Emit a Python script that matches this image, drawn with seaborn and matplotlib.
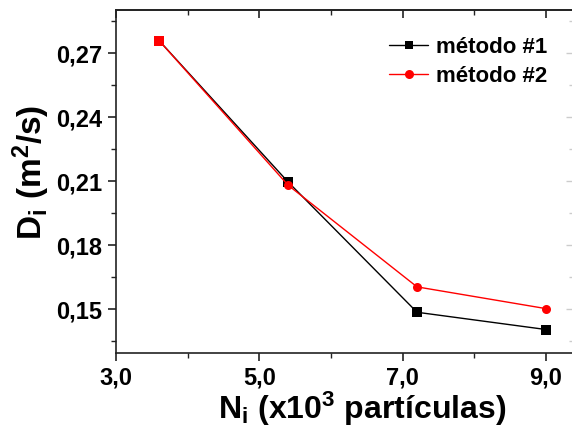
import matplotlib
matplotlib.use("Agg")
import matplotlib.pyplot as plt
import seaborn as sns
import pandas as pd
from matplotlib.ticker import MultipleLocator
from matplotlib.lines import Line2D

# Data
n_particles = [3.6, 5.4, 7.2, 9.0]
d_metodo1 = [0.2760, 0.2097, 0.1486, 0.1405]
d_metodo2 = [0.2760, 0.2082, 0.1605, 0.1503]
series_names = ["método #1", "método #2"]
x_ticks = [3.0, 5.0, 7.0, 9.0]
x_tick_labels = ["3,0", "5,0", "7,0", "9,0"]
y_ticks = [0.15, 0.18, 0.21, 0.24, 0.27]
y_tick_labels = ["0,15", "0,18", "0,21", "0,24", "0,27"]

sns.set_theme(style="white")
plt.rcParams['font.family'] = ['Liberation Sans', 'DejaVu Sans']
plt.rcParams['font.weight'] = 'bold'
plt.rcParams['text.color'] = 'black'
plt.rcParams['axes.labelcolor'] = 'black'
plt.rcParams['xtick.color'] = 'black'
plt.rcParams['ytick.color'] = 'black'
plt.rcParams['mathtext.fontset'] = 'custom'
plt.rcParams['mathtext.rm'] = 'Liberation Sans:bold'
plt.rcParams['mathtext.it'] = 'Liberation Sans:bold'
plt.rcParams['mathtext.bf'] = 'Liberation Sans:bold'
plt.rcParams['mathtext.default'] = 'rm'

df = pd.DataFrame({
    "N": n_particles * 2,
    "D": d_metodo1 + d_metodo2,
    "metodo": [series_names[0]] * 4 + [series_names[1]] * 4,
})

fig = plt.figure(figsize=(5.72, 4.30), dpi=100)
ax = fig.add_axes([116 / 572, 1 - 353 / 430, (574 - 116) / 572, (353 - 10) / 430])

palette = {series_names[0]: "black", series_names[1]: "red"}
sns.lineplot(data=df, x="N", y="D", hue="metodo", style="metodo",
             palette=palette, markers={series_names[0]: "s", series_names[1]: "o"},
             dashes=False, markersize=6.5, linewidth=1.0, markeredgewidth=0,
             ax=ax, legend=False)
# first point of method 2 drawn as a square on top
ax.plot(n_particles[:1], d_metodo2[:1], marker="s", color="red", markersize=6.5,
        markeredgewidth=0, linestyle="none", zorder=5)

ax.set_xlim(3.0, 9.39)
ax.set_ylim(0.1295, 0.2903)
ax.set_xticks(x_ticks)
ax.set_xticklabels(x_tick_labels, fontsize=17, fontweight="bold", color="black")
ax.set_yticks(y_ticks)
ax.set_yticklabels(y_tick_labels, fontsize=17, fontweight="bold", color="black")
ax.xaxis.set_minor_locator(MultipleLocator(1.0))
ax.yaxis.set_minor_locator(MultipleLocator(0.015))
ax.tick_params(axis="both", which="major", direction="out", length=6, width=1.2,
               color="#222222", pad=4, bottom=True, left=True)
ax.tick_params(axis="both", which="minor", direction="out", length=3.5, width=1.0,
               color="#222222", bottom=True, left=True)

for side in ["top", "left", "bottom"]:
    ax.spines[side].set_visible(True)
    ax.spines[side].set_color("#222222")
    ax.spines[side].set_linewidth(1.2)
ax.spines["right"].set_visible(False)

# mirrored inward ticks on top and right
secx = ax.secondary_xaxis("top")
secx.set_xticks(x_ticks)
secx.xaxis.set_minor_locator(MultipleLocator(1.0))
secx.tick_params(which="major", direction="in", length=6, width=1.2, color="#222222", labeltop=False)
secx.tick_params(which="minor", direction="in", length=3.5, width=1.0, color="#222222")
secx.set_xticklabels([])
secy = ax.secondary_yaxis("right")
secy.spines["right"].set_visible(False)
secy.set_yticks(y_ticks)
secy.yaxis.set_minor_locator(MultipleLocator(0.015))
secy.tick_params(which="major", direction="in", length=6, width=1.0, color="#cccccc", labelright=False)
secy.tick_params(which="minor", direction="in", length=3.5, width=1.0, color="#cccccc")
secy.set_yticklabels([])

ax.set_xlabel(r"N$_\mathregular{i}$ (x10$^\mathregular{3}$ partículas)", fontsize=23,
              fontweight="bold", color="black")
ax.xaxis.set_label_coords((362 - 116) / 458, -(390 - 353) / 343)
ax.set_ylabel(r"D$_\mathregular{i}$ (m$^\mathregular{2}$/s)", fontsize=24,
              fontweight="bold", color="black")
ax.yaxis.set_label_coords(-(116 - 52) / 458, (353 - 172) / 343)

# legend
handles = [
    Line2D([], [], color="black", marker="s", markersize=6, linewidth=1.0, markeredgewidth=0),
    Line2D([], [], color="red", marker="o", markersize=6.5, linewidth=1.0, markeredgewidth=0),
]
leg = ax.legend(handles, series_names, loc="upper right", bbox_to_anchor=(0.985, 0.98),
                frameon=False, prop={"size": 16, "weight": "bold"},
                handlelength=1.75, handletextpad=0.35, labelspacing=0.35)

fig.savefig("out.png", dpi=100)
